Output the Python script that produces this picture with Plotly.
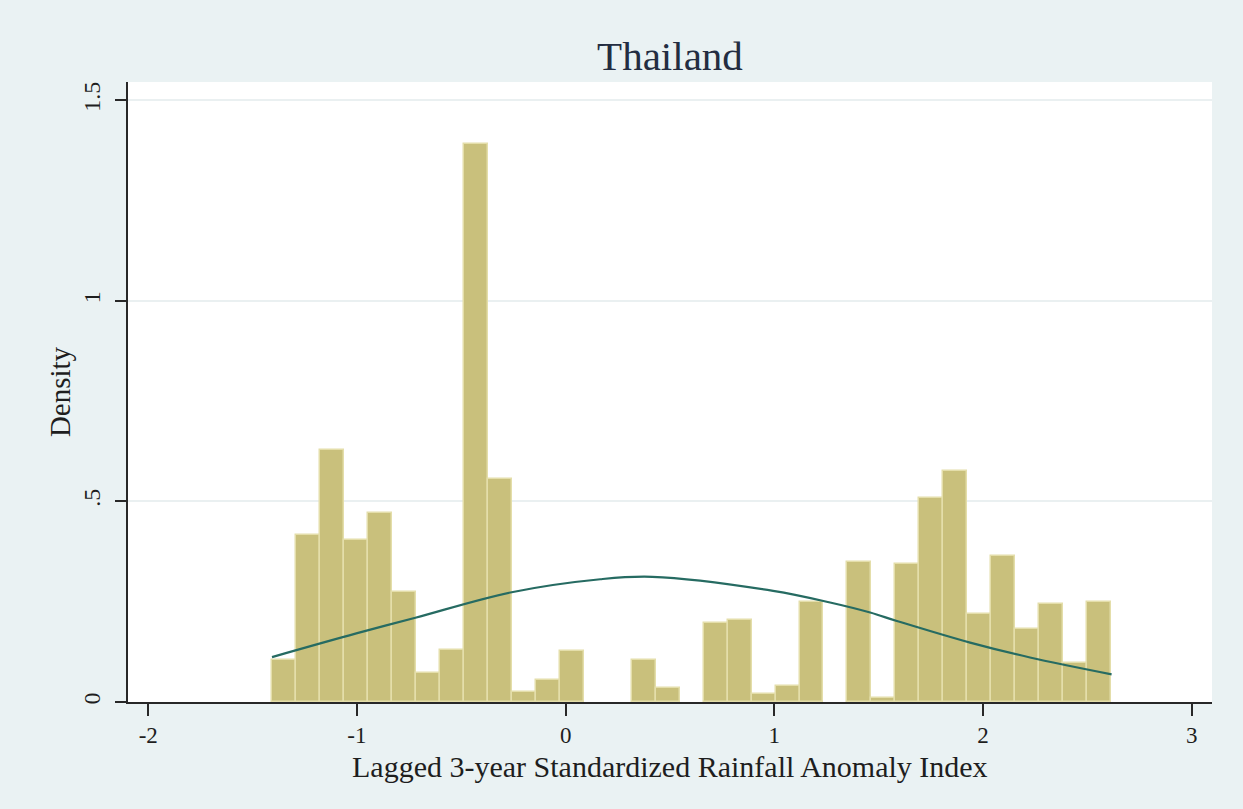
import plotly.graph_objects as go

# ---- data ----
title_text = "Thailand"
x_title = "Lagged 3-year Standardized Rainfall Anomaly Index"
y_title = "Density"

bin_start = -1.4052
bin_width = 0.11481
density = [0.104, 0.417, 0.628, 0.405, 0.472, 0.275, 0.072, 0.130, 1.390, 0.555,
           0.026, 0.054, 0.127, 0.0, 0.0, 0.104, 0.034, 0.0, 0.196, 0.205,
           0.020, 0.040, 0.250, 0.0, 0.350, 0.011, 0.344, 0.508, 0.576, 0.219,
           0.364, 0.181, 0.244, 0.096, 0.250]

curve_x = [-1.407, -1.003, -0.720, -0.265, 0.166, 0.415, 0.994, 1.267, 1.459, 1.587, 1.938, 2.225, 2.616]
curve_y = [0.112, 0.171, 0.210, 0.273, 0.306, 0.312, 0.277, 0.248, 0.223, 0.202, 0.148, 0.111, 0.069]

x_ticks = [-2, -1, 0, 1, 2, 3]
x_ticklabels = ["-2", "-1", "0", "1", "2", "3"]
y_ticks = [0, 0.5, 1, 1.5]
y_ticklabels = ["0", ".5", "1", "1.5"]

bin_centers = [bin_start + bin_width * (i + 0.5) for i in range(len(density))]
outline_w = [1.5 if d > 0 else 0 for d in density]

FONT = "Liberation Serif"
BG = "rgb(234,242,243)"
TXT = "rgb(30,30,30)"

fig = go.Figure()
fig.add_trace(go.Bar(
    x=bin_centers, y=density, width=bin_width,
    marker=dict(color="rgb(201,192,124)", line=dict(color="rgb(228,222,170)", width=outline_w)),
    hoverinfo="x+y", showlegend=False,
))
fig.add_trace(go.Scatter(
    x=curve_x, y=curve_y, mode="lines",
    line=dict(color="rgb(38,107,98)", width=2.2, shape="spline", smoothing=1.0),
    showlegend=False,
))

fig.add_annotation(
    text=x_title, xref="paper", yref="paper", x=0.5, y=-0.1045,
    xanchor="center", yanchor="middle", showarrow=False,
    font=dict(family=FONT, size=30, color=TXT),
)

fig.update_layout(
    width=1243, height=809,
    margin=dict(l=128, r=31, t=82, b=107),
    paper_bgcolor=BG, plot_bgcolor="white",
    bargap=0,
    title=dict(text=title_text, x=0.539, xanchor="center", y=0.931, yanchor="middle",
               font=dict(family=FONT, size=41, color="rgb(35,45,65)")),
    xaxis=dict(
        range=[-2.097, 3.097], tickvals=x_ticks, ticktext=x_ticklabels,
        showgrid=False, zeroline=False,
        showline=True, linecolor="rgb(40,40,40)", linewidth=1.5,
        ticks="outside", ticklen=12, tickwidth=1.5, tickcolor="rgb(40,40,40)",
        tickfont=dict(family=FONT, size=23, color=TXT),
        ticklabelstandoff=0,
        automargin=False,
    ),
    yaxis=dict(
        range=[0, 1.5457], tickvals=y_ticks, ticktext=y_ticklabels,
        showgrid=True, gridcolor="rgb(234,240,241)", gridwidth=1.5, zeroline=False,
        showline=True, linecolor="rgb(40,40,40)", linewidth=1.5,
        ticks="outside", ticklen=11, tickwidth=1.5, tickcolor="rgb(40,40,40)",
        tickangle=-90,
        tickfont=dict(family=FONT, size=24, color=TXT),
        ticklabelstandoff=6,
        title=dict(text=y_title, font=dict(family=FONT, size=29, color=TXT), standoff=0),
        automargin=False,
    ),
)

fig.write_html("out.html")
